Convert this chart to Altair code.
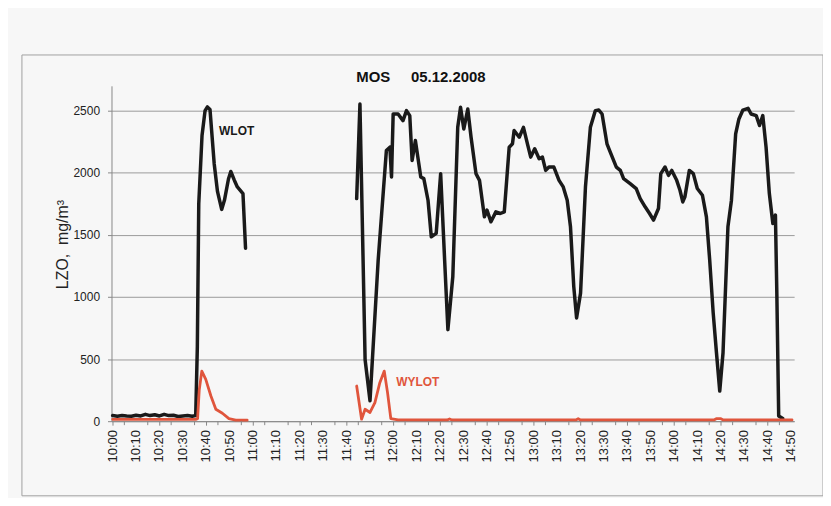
import altair as alt
import pandas as pd

# minutes after 10:00 and LZO values (mg/m3)
wlot_a_t = [0, 2, 4, 6, 8, 10, 12, 14, 16, 18, 20, 22, 24, 26, 28, 30, 32, 34, 35.5,
            36.2, 36.8, 38.2, 39.5, 40.5, 41.6, 43.4, 44.8, 46.6, 47.8, 49.5, 50.5, 52, 53.3, 55.7, 56.8]
wlot_a_v = [45, 40, 45, 42, 40, 48, 42, 55, 45, 52, 42, 55, 45, 48, 38, 42, 45, 40, 45,
            600, 1750, 2300, 2500, 2530, 2510, 2073, 1850, 1705, 1780, 1950, 2010, 1940, 1886, 1833, 1392]

wlot_b_t = [104.3, 105.7, 107.9, 110, 113.5, 117, 118.5, 119.2, 119.9, 122, 124.1, 125.6, 127, 128,
            129.4, 131.7, 133, 134.8, 136.2, 138.3, 140.2, 141.9, 143.3, 145.4, 147.5, 148.7, 150.1,
            151.8, 153.2, 155.3, 156.8, 158.9, 160, 161.7, 163.8, 165.7, 167.4, 169.5, 170.9, 171.6,
            173.8, 175.6, 177.3, 178.7, 180.4, 182.3, 183.7, 185.1, 186.5, 188.6, 190.8, 192.6, 194.3,
            195.7, 197.1, 198.3, 200, 202.1, 204.2, 206.3, 207.8, 209.2, 211.3, 212.7, 215.3, 217,
            218.4, 221.2, 223.8, 225.5, 227.6, 229.5, 231.2, 233.3, 234.3, 236.1, 237.6, 239, 241.1,
            242.5, 243.7, 244.6, 246.5, 248.2, 249.9, 252.1, 253.8, 255.2, 256.7, 258.1, 259.5, 260.9,
            263, 264.5, 266.3, 267.7, 269.4, 271.6, 272.9, 275.1, 276.5, 277.9, 279.3, 280.7, 282.2,
            283.3, 283.9, 284.7, 286.4]
wlot_b_v = [1792, 2553, 497, 165, 1298, 2179, 2206, 1966, 2473, 2473, 2420, 2500, 2460, 2099,
            2260, 1966, 1953, 1779, 1485, 1512, 1993, 1298, 737, 1165, 2366, 2527, 2353,
            2513, 2286, 1993, 1939, 1645, 1699, 1605, 1685, 1672, 1685, 2206, 2233, 2340,
            2286, 2366, 2233, 2126, 2193, 2113, 2126, 2019, 2046, 2046, 1939, 1886, 1779,
            1565, 1084, 831, 1031, 1886, 2366, 2500, 2505, 2473, 2233, 2166, 2046, 2019,
            1953, 1913, 1873, 1792, 1726, 1672, 1619, 1712, 1993, 2046, 1979, 2019, 1939,
            1859, 1765, 1806, 2019, 1993, 1873, 1819, 1645, 1298, 871, 551, 243, 551,
            1565, 1779, 2313, 2433, 2505, 2519, 2473, 2460, 2380, 2460, 2206, 1833, 1592,
            1659, 1031, 42, 21]

wylot_a_t = [0, 10, 20, 30, 35.5, 36.3, 37, 38.1, 39.8, 42, 44.1, 46.9, 49.7, 52.6, 57.5]
wylot_a_v = [15, 15, 15, 15, 15, 20, 250, 403, 336, 203, 96, 64, 21, 8, 8]

wylot_b_t = [104.3, 106.4, 107.9, 110, 112.1, 114.2, 116.1, 117.5, 118.9, 122, 143, 144, 145,
             198, 199, 200, 257, 258, 260, 261, 285, 290.4]
wylot_b_v = [283, 16, 96, 70, 150, 310, 403, 230, 21, 10, 10, 18, 10,
             10, 20, 10, 10, 20, 20, 10, 10, 10]

label_minutes = list(range(0, 291, 10))
minor_tick_minutes = list(range(5, 291, 10))
y_ticks = [0, 500, 1000, 1500, 2000, 2500]

rows = []
for seg, series, ts, vs in [("A", "WLOT", wlot_a_t, wlot_a_v), ("B", "WLOT", wlot_b_t, wlot_b_v),
                            ("C", "WYLOT", wylot_a_t, wylot_a_v), ("D", "WYLOT", wylot_b_t, wylot_b_v)]:
    for t, v in zip(ts, vs):
        rows.append({"t": t, "v": v, "series": series, "seg": seg})
df = pd.DataFrame(rows)

FONT = "Liberation Sans"
label_expr = ("(floor(datum.t / 60) + 10) + ':' + "
              "(datum.t % 60 < 10 ? '0' : '') + (datum.t % 60)")

x = alt.X("t:Q", scale=alt.Scale(domain=[-0.5, 291.3], nice=False, zero=False),
          axis=alt.Axis(values=label_minutes, labels=False, tickSize=4, grid=False,
                        domainColor="#888", tickColor="#888", title=None))
y = alt.Y("v:Q", scale=alt.Scale(domain=[0, 2700], nice=False),
          axis=alt.Axis(values=y_ticks, format="d", labelFontSize=12, labelFont=FONT,
                        labelColor="#222", tickSize=4, labelPadding=8, gridColor="#9a9a9a",
                        domainColor="#888", tickColor="#888",
                        title="LZO,\u00a0 mg/m³", titleFont=FONT, titleFontSize=16,
                        titleFontWeight="normal", titleColor="#222", titleAngle=270,
                        titleX=-49, titleY=159, titleAlign="center", titleBaseline="middle"))

color = alt.Color("series:N", scale=alt.Scale(domain=["WLOT", "WYLOT"], range=["#1a1a1a", "#e0553c"]),
                  legend=None)

base = alt.Chart(df)
black = base.transform_filter("datum.series == 'WLOT'").mark_line(
    strokeWidth=3.5, strokeJoin="round", strokeCap="round").encode(x=x, y=y, color=color, detail="seg:N")
red = base.transform_filter("datum.series == 'WYLOT'").mark_line(
    strokeWidth=2.8, strokeJoin="round", strokeCap="round").encode(x="t:Q", y="v:Q", color=color, detail="seg:N")

minor = alt.Chart(pd.DataFrame({"t": minor_tick_minutes})).mark_rule(
    color="#888", strokeWidth=1).encode(x="t:Q", y=alt.value(337), y2=alt.value(341))

xlabels = alt.Chart(pd.DataFrame({"t": label_minutes})).transform_calculate(
    lab=label_expr).mark_text(angle=270, align="right", baseline="middle", font=FONT,
                              fontSize=13, color="#222").encode(x="t:Q", y=alt.value(346), text="lab:N")

ann = pd.DataFrame({"t": [45.5, 121.2], "v": [2340, 312], "label": ["WLOT", "WYLOT"], "series": ["WLOT", "WYLOT"]})
labels = alt.Chart(ann).mark_text(align="left", baseline="middle", font=FONT, fontSize=12,
                                  fontWeight="bold").encode(x="t:Q", y="v:Q", text="label:N", color=color)

frame = alt.Chart(pd.DataFrame({"k": [0]})).mark_rect(fillOpacity=0, stroke="#a0a0a0", strokeWidth=1).encode(
    x=alt.value(-90), x2=alt.value(715), y=alt.value(-31), y2=alt.value(412))

t1 = alt.Chart(pd.DataFrame({"s": ["MOS"]})).mark_text(
    align="left", baseline="middle", font=FONT, fontSize=15, fontWeight="bold", color="#111").encode(
    x=alt.value(246), y=alt.value(-9), text="s:N")
t2 = alt.Chart(pd.DataFrame({"s": ["05.12.2008"]})).mark_text(
    align="left", baseline="middle", font=FONT, fontSize=15, fontWeight="bold", color="#111").encode(
    x=alt.value(301), y=alt.value(-9), text="s:N")

chart = alt.layer(frame, black, red, minor, xlabels, labels, t1, t2).properties(
    width=686, height=337,
    autosize=alt.AutoSizeParams(type="none"),
    padding={"left": 104, "top": 77, "right": 29, "bottom": 76},
    background="#f7f7f7",
).configure_view(strokeWidth=0)

chart.save("out.html", embed_options={"renderer": "svg", "actions": False})
